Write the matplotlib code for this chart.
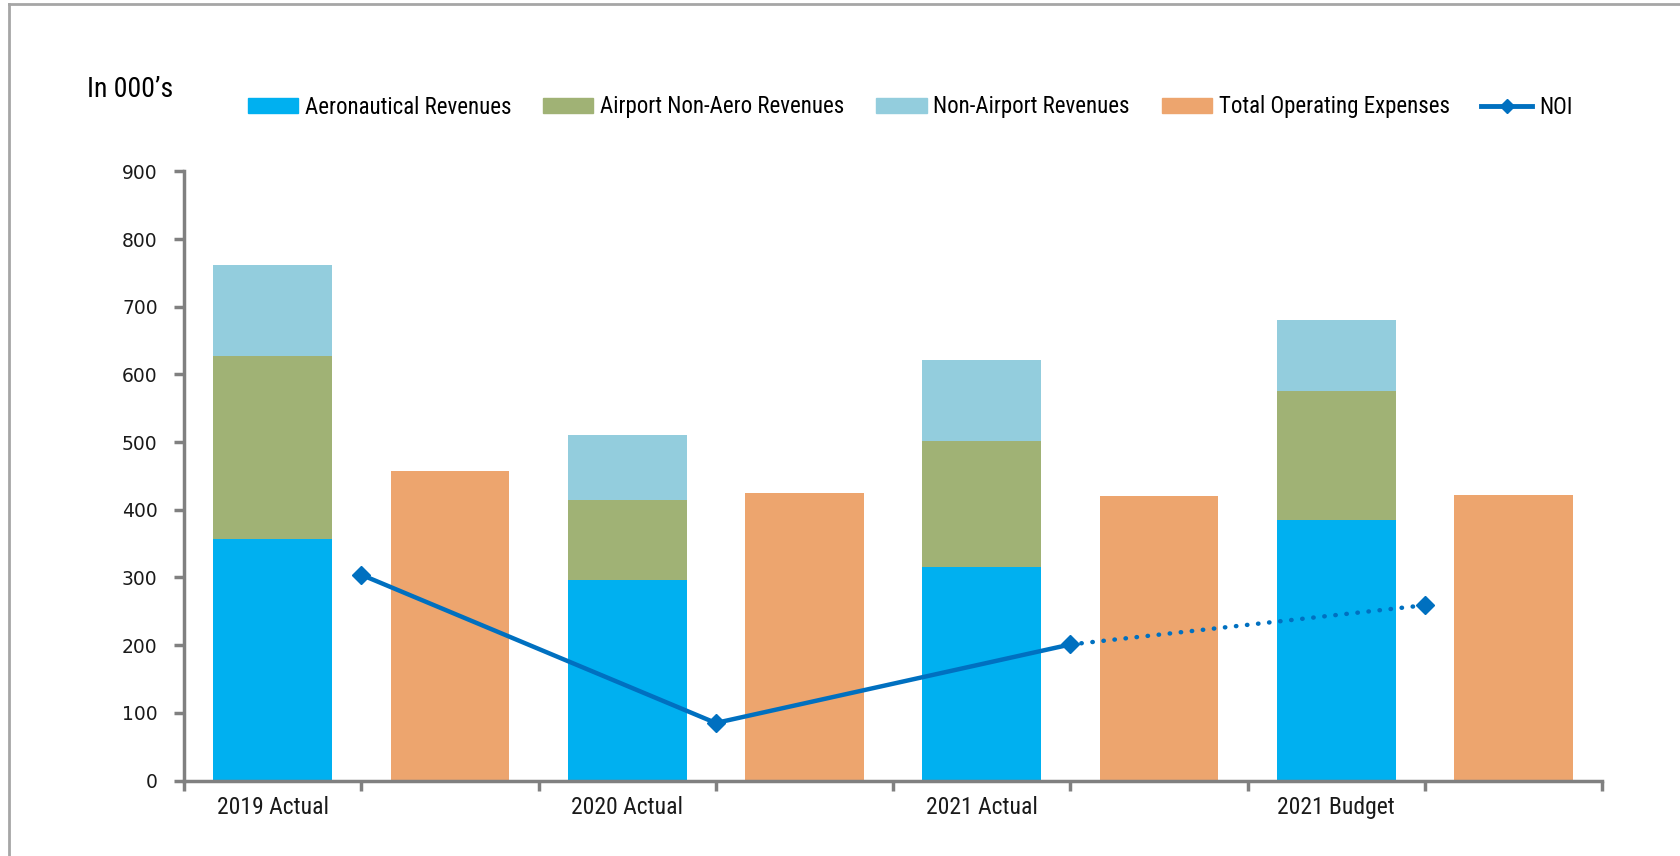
import numpy as np
import matplotlib.pyplot as plt
from matplotlib.lines import Line2D
from matplotlib.patches import Patch

# 데이터 (단위: 천)
periods = ["2019 Actual", "2020 Actual", "2021 Actual", "2021 Budget"]
aero_rev = [357, 296, 315, 385]
non_aero_rev = [271, 118, 186, 190]
non_airport_rev = [134, 96, 120, 106]
total_opex = [458, 425, 420, 422]
noi = [304, 85, 201, 259]

c_aero = '#00B0F0'
c_non_aero = '#A0B275'
c_non_airport = '#93CDDD'
c_opex = '#EDA56E'
c_noi = '#0070C0'
c_axis = '#808080'

narrow = ['Liberation Sans Narrow', 'Roboto Condensed', 'Open Sans Condensed', 'DejaVu Sans']
plt.rcParams['font.family'] = ['DejaVu Sans']

fig = plt.figure(figsize=(16.81, 8.56), dpi=100)
ax = fig.add_axes([0.1095, 0.0882, 0.8435, 0.7115])

# 각 기간마다 두 칸: 수익 누적 막대, 비용 막대
n = len(periods)
x_rev = np.arange(n) * 2
x_exp = x_rev + 1
x_noi = x_rev + 0.5
w = 0.67

ax.bar(x_rev, aero_rev, w, color=c_aero)
ax.bar(x_rev, non_aero_rev, w, bottom=aero_rev, color=c_non_aero)
ax.bar(x_rev, non_airport_rev, w, bottom=np.add(aero_rev, non_aero_rev), color=c_non_airport)
ax.bar(x_exp, total_opex, w, color=c_opex)

# NOI: 실적 구간은 실선, 예산 구간은 점선
ax.plot(x_noi[:3], noi[:3], color=c_noi, lw=3.2, solid_capstyle='round', zorder=3)
ax.plot(x_noi[2:], noi[2:], color=c_noi, lw=3.2, linestyle=(0, (0.1, 2.4)),
        dash_capstyle='round', zorder=3)
ax.plot(x_noi, noi, linestyle='none', marker='D', ms=9, color=c_noi, zorder=4)

ax.set_xlim(-0.5, 2 * n - 0.5)
ax.set_ylim(0, 900)
ax.set_yticks(np.arange(0, 901, 100))
ax.set_xticks(np.arange(-0.5, 2 * n, 1.0))
ax.set_xticklabels([])
ax.set_xticks(x_rev, minor=True)
ax.set_xticklabels(periods, minor=True, family=narrow, fontsize=17, color='#1a1a1a')
ax.tick_params(axis='x', which='minor', length=0, pad=11)
ax.tick_params(axis='x', which='major', direction='out', length=7, width=2.5, color=c_axis)
ax.tick_params(axis='y', direction='out', length=7, width=2.5, color=c_axis,
               labelsize=13.5, labelcolor='#1a1a1a', pad=12)

for side in ['top', 'right']:
    ax.spines[side].set_visible(False)
for side in ['left', 'bottom']:
    ax.spines[side].set_color(c_axis)
    ax.spines[side].set_linewidth(2.5)

handles = [
    Patch(color=c_aero, label='Aeronautical Revenues'),
    Patch(color=c_non_aero, label='Airport Non-Aero Revenues'),
    Patch(color=c_non_airport, label='Non-Airport Revenues'),
    Patch(color=c_opex, label='Total Operating Expenses'),
    Line2D([0], [0], color=c_noi, lw=3.5, marker='D', ms=7, label='NOI'),
]
fig.legend(handles=handles, loc='center left', bbox_to_anchor=(0.135, 0.875), ncol=5,
           frameon=False, prop={'family': narrow, 'size': 16.5},
           handlelength=2.2, handleheight=0.6, handletextpad=0.3, columnspacing=1.38)

fig.text(0.052, 0.895, 'In 000\u2019s', family=narrow, fontsize=20, color='black',
         ha='left', va='center')

# 차트 영역 테두리 (상단, 좌측)
fig.add_artist(Line2D([0.0054, 1.0], [0.995, 0.995], color='#A6A6A6', lw=2))
fig.add_artist(Line2D([0.0054, 0.0054], [0.0, 0.995], color='#A6A6A6', lw=2))

fig.savefig('out.png', dpi=100)
